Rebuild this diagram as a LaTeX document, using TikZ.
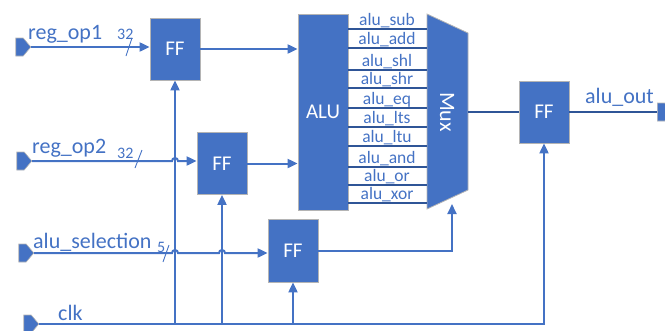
\documentclass[tikz,border=0pt]{standalone}
\usepackage{fontspec}
\setmainfont{Carlito}
\usetikzlibrary{arrows.meta,shapes.symbols,positioning}

\definecolor{ffblue}{HTML}{4472C4}
\definecolor{ffedge}{HTML}{B4B4B4}
\definecolor{busdark}{HTML}{2F5597}

\begin{document}
\begin{tikzpicture}[
    x=1pt, y=-1pt,
    ff/.style={rectangle, draw=ffedge, line width=0.8pt, fill=ffblue, text=white, minimum width=50pt, minimum height=62pt, inner sep=0pt, font=\fontsize{21}{21}\selectfont},
    port/.style={signal, signal to=east, signal pointer angle=100, draw=ffedge, line width=0.6pt, fill=ffblue, minimum width=15pt, minimum height=18pt, inner sep=0pt},
    lbl/.style={text=ffblue, inner sep=0pt, font=\fontsize{22}{22}\selectfont},
    buswidth/.style={text=ffblue, inner sep=0pt, font=\fontsize{16}{16}\selectfont},
    oplbl/.style={text=ffblue, inner sep=0pt, font=\fontsize{17.5}{17.5}\selectfont},
    wire/.style={draw=ffblue, line width=2pt},
    arrow/.style={wire, -{Triangle[length=10pt,width=9pt]}},
    dark/.style={draw=busdark, line width=2.2pt},
    slash/.style={draw=ffblue, line width=0.9pt}
]
    \clip (0,0) rectangle (665,330);

    % Flip-flops and ALU
    \node[ff] (ff1) at (175,49) {FF};
    \node[ff] (ff2) at (222,163.5) {FF};
    \node[ff, minimum height=63pt] (ff3) at (293,250.5) {FF};
    \node[ff] (ff4) at (544,112) {FF};
    \node[ff, minimum height=196pt] (alu) at (323,112) {ALU};

    % Mux
    \filldraw[fill=ffblue, draw=ffedge, line width=0.8pt] (427,14) -- (468,33) -- (468,190) -- (427,209) -- cycle;
    \node[lbl, text=white, rotate=-90] (mux) at (447,112) {Mux};
    \coordinate (muxout) at (468,112);
    \coordinate (muxsel) at (452,204);

    % Ports
    \node[port] (op1) at (19.5,47) {};
    \node[port] (op2) at (20.5,161) {};
    \node[port] (sel) at (22.5,253) {};
    \node[port] (clk) at (27.5,324) {};
    \node[port, anchor=west] (out) at (657,112) {};

    % Port labels
    \node[lbl, anchor=base west] (op1txt) at (28,39) {reg\_op1};
    \node[lbl, anchor=base west] (op2txt) at (32,153) {reg\_op2};
    \node[lbl, anchor=base west] (seltxt) at (33,248) {alu\_selection};
    \node[lbl, anchor=base west] (clktxt) at (58,320) {clk};
    \node[lbl, anchor=base west] (outtxt) at (585,103) {alu\_out};
    \node[buswidth, anchor=base west] (w1) at (117,39) {32};
    \node[buswidth, anchor=base west] (w2) at (117,158) {32};
    \node[buswidth, anchor=base west] (w3) at (157,252) {5};
    \draw[slash] (126,56) -- (132,38);
    \draw[slash] (135,168) -- (142,150);
    \draw[slash] (163,262) -- (169,245);

    % ALU outputs into the mux
    \foreach \y/\op in {29/sub,48/add,70/shl,88/shr,108/eq,127/lts,146/ltu,167/and,185/or,203/xor}{
        \draw[dark] (alu.east |- 0,\y) -- (427,\y);
        \node[oplbl, anchor=base] (op-\op) at (387,\y-3.5) {alu\_\op};
    }

    % Data path
    \coordinate (hop1) at (ff1.south |- op2.east);
    \coordinate (hop2) at (ff1.south |- sel.east);
    \coordinate (hop3) at (ff2.south |- sel.east);
    \draw[arrow] (op1.east) -- (ff1.west |- op1.east);
    \draw[arrow] (ff1.east) -- (alu.west |- ff1.east);
    \draw[arrow] (op2.east) -- ([xshift=-3pt]hop1) arc[start angle=180, end angle=360, radius=3] -- (ff2.west |- op2.east);
    \draw[arrow] (ff2.east) -- (alu.west |- ff2.east);
    \draw[arrow] (sel.east) -- ([xshift=-3pt]hop2) arc[start angle=180, end angle=360, radius=3]
        -- ([xshift=-3pt]hop3) arc[start angle=180, end angle=360, radius=3] -- (ff3.west |- sel.east);
    \draw[arrow] (ff3.east) -| (muxsel);
    \draw[dark] (muxout) -- (ff4.west);
    \draw[dark] (ff4.east) -- (out.west);

    % Clock
    \draw[arrow] (clk.east) -| (ff4.south);
    \draw[arrow] (ff1.south |- clk.east) -- (ff1.south);
    \draw[arrow] (ff2.south |- clk.east) -- (ff2.south);
    \draw[arrow] (ff3.south |- clk.east) -- (ff3.south);
\end{tikzpicture}
\end{document}
